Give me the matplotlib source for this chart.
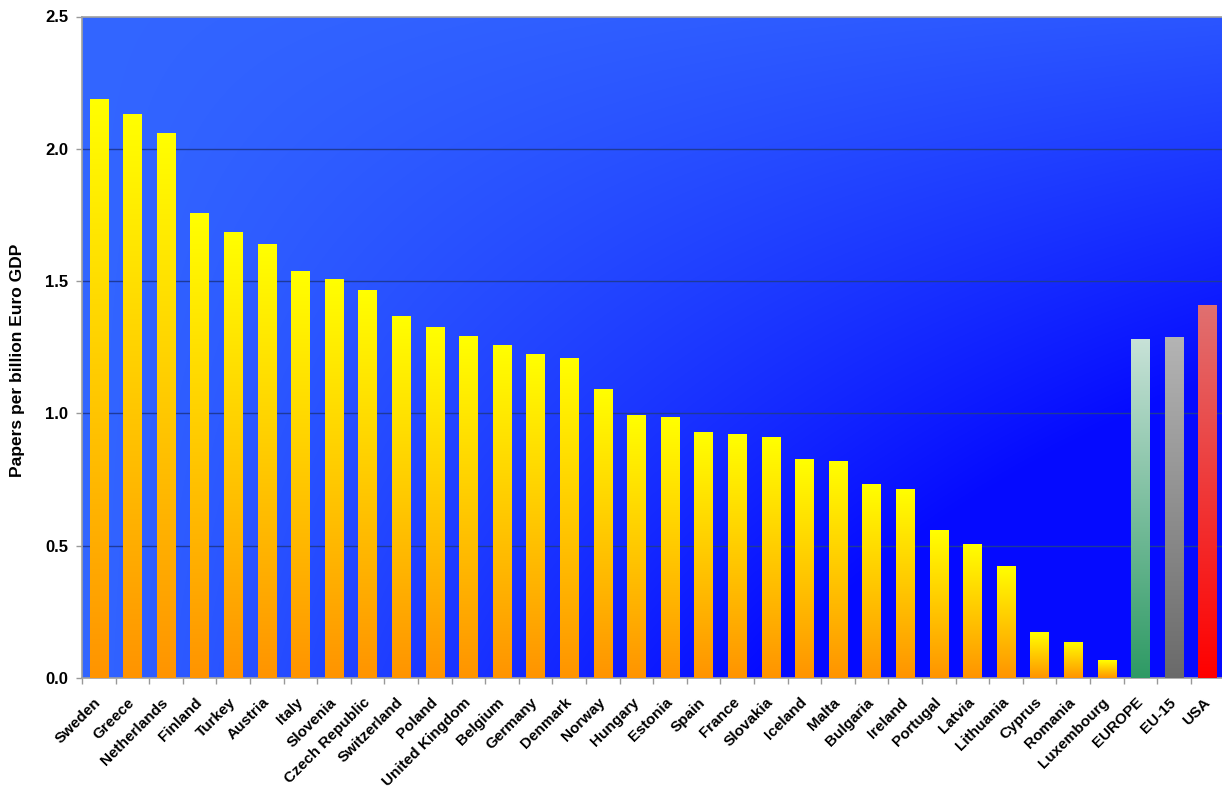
import numpy as np
import matplotlib
matplotlib.use("Agg")
import matplotlib.pyplot as plt
from matplotlib.colors import LinearSegmentedColormap

categories = ["Sweden", "Greece", "Netherlands", "Finland", "Turkey", "Austria", "Italy",
              "Slovenia", "Czech Republic", "Switzerland", "Poland", "United Kingdom",
              "Belgium", "Germany", "Denmark", "Norway", "Hungary", "Estonia", "Spain",
              "France", "Slovakia", "Iceland", "Malta", "Bulgaria", "Ireland", "Portugal",
              "Latvia", "Lithuania", "Cyprus", "Romania", "Luxembourg", "EUROPE", "EU-15", "USA"]
values = [2.19, 2.133, 2.06, 1.757, 1.684, 1.64, 1.540,
          1.508, 1.467, 1.369, 1.328, 1.291,
          1.257, 1.225, 1.211, 1.093, 0.995, 0.986, 0.928,
          0.923, 0.909, 0.826, 0.821, 0.735, 0.716, 0.558,
          0.508, 0.424, 0.172, 0.137, 0.068, 1.282, 1.288, 1.408]
yticks = [0.0, 0.5, 1.0, 1.5, 2.0, 2.5]
ylabel = "Papers per billion Euro GDP"

# gradient (top colour, bottom colour) per bar
grad_country = ("#FFFF00", "#FF9400")
grad_special = {"EUROPE": ("#C8E2D8", "#2E9A64"),
                "EU-15": ("#B4B4B4", "#6A6A6A"),
                "USA": ("#E07070", "#FF0000")}

plt.rcParams['font.family'] = ['Liberation Sans', 'DejaVu Sans']

fig = plt.figure(figsize=(12.22, 7.91), dpi=100)
ax = fig.add_axes([82 / 1222, 113 / 791, (1224.5 - 82) / 1222, (678 - 16.5) / 791])

# background gradient: light top-left, dark bottom-right
nx, ny = 300, 200
gx, gy = np.meshgrid(np.linspace(0, 1, nx), np.linspace(0, 1, ny))  # gy: 0 top, 1 bottom
t = np.clip(gx * gy * 1.5 + 0.18 * gx, 0, 1)
light = np.array([0.20, 0.40, 1.0])
dark = np.array([0.02, 0.04, 1.0])
bg = light[None, None, :] * (1 - t[..., None]) + dark[None, None, :] * t[..., None]
ax.imshow(bg, extent=[0, 1, 0, 1], origin='upper', transform=ax.transAxes, aspect='auto',
          zorder=0, interpolation='bilinear')

x = np.arange(len(categories))
bars = ax.bar(x, values, width=0.55, color='none', edgecolor='none', zorder=3)

grad = np.linspace(1, 0, 256).reshape(-1, 1)
for name, b in zip(categories, bars):
    top, bot = grad_special.get(name, grad_country)
    cmap = LinearSegmentedColormap.from_list("g", [bot, top])
    x0, w, h = b.get_x(), b.get_width(), b.get_height()
    im = ax.imshow(grad, cmap=cmap, extent=[x0, x0 + w, 0, h], aspect='auto',
                   zorder=3, vmin=0, vmax=1, interpolation='bilinear')
    im.set_clip_path(b)

ax.set_xlim(-0.5, len(categories) - 0.5)
ax.set_ylim(0, 2.5)
ax.set_yticks(yticks)
ax.set_yticklabels([f"{v:.1f}" for v in yticks], fontsize=12, fontweight='bold')
for v in yticks[1:-1]:
    ax.axhline(v, color='#1E3A9A', lw=1.0, zorder=1)

ax.set_xticks(x)
ax.set_xticklabels(categories, rotation=45, ha='right', va='center', rotation_mode='anchor',
                   fontsize=11, fontweight='bold')
ax.set_xticks(np.arange(len(categories) + 1) - 0.5, minor=True)
ax.tick_params(axis='x', which='major', length=0, pad=16)
ax.tick_params(axis='x', which='minor', length=4, color='#999999', width=1)
ax.tick_params(axis='y', length=4, color='#999999', width=1, pad=6)

for s in ax.spines.values():
    s.set_color('#A0A0A0')
    s.set_linewidth(1.2)

ax.set_ylabel(ylabel, fontsize=12.5, fontweight='bold')
ax.yaxis.set_label_coords(-0.05, 0.48)

fig.savefig("out.png", dpi=100)
